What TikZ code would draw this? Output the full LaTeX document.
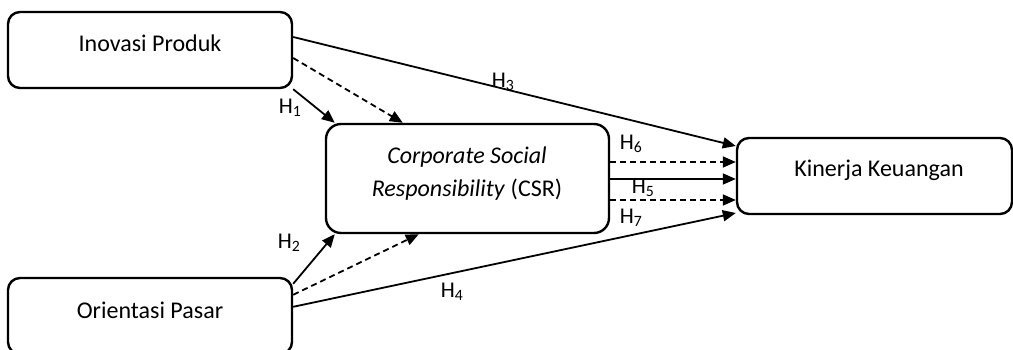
\documentclass[tikz,border=0pt]{standalone}
\usepackage{fontspec}
\setmainfont{Carlito}
\usetikzlibrary{arrows.meta,calc}
\begin{document}
\begin{tikzpicture}[x=1pt,y=-1pt,
  box/.style={draw,line width=2.4pt,rounded corners=12pt,inner sep=0pt},
  txt/.style={font=\fontsize{24}{33}\selectfont,inner sep=0pt},
  hl/.style={font=\fontsize{22.5}{26}\selectfont,inner sep=0pt},
  conn/.style={line width=1.8pt,-{Triangle[length=13pt,width=11pt]}},
  dconn/.style={conn,dash pattern=on 6pt off 4pt}]
\useasboundingbox (0,0) rectangle (1013,350);
% boxes
\node[box,minimum width=284pt,minimum height=76pt] (ip) at (150,50) {};
\node[txt] (iptext) at (150,43) {Inovasi Produk};
\node[box,minimum width=284pt,minimum height=76pt] (op) at (150,316) {};
\node[txt] (optext) at (150,310) {Orientasi Pasar};
\node[box,rounded corners=15pt,minimum width=283pt,minimum height=109pt] (csr) at (467.5,178.5) {};
\node[txt,align=center] (csrtext) at (467,173.5) {\itshape Corporate Social\\\textit{Responsibility} \upshape(CSR)};
\node[box,minimum width=275pt,minimum height=76pt] (kk) at (874.5,176) {};
\node[txt] (kktext) at (879,170) {Kinerja Keuangan};
% connector end points
\coordinate (ipA) at ($(ip.east)+(0,-13)$);
\coordinate (ipB) at ($(ip.east)+(0,8)$);
\coordinate (ipC) at (ip.south east);
\coordinate (opA) at ($(op.north east)+(0,7)$);
\coordinate (opB) at ($(op.north east)+(0,18)$);
\coordinate (opC) at ($(op.north east)+(0,30)$);
\coordinate (csrN1) at ($(csr.north west)+(10,0)$);
\coordinate (csrN2) at ($(csr.north west)+(78,0)$);
\coordinate (csrS1) at ($(csr.south west)+(10,0)$);
\coordinate (csrS2) at ($(csr.south west)+(94,0)$);
\coordinate (csrE1) at ($(csr.east)+(0,-16.5)$);
\coordinate (csrE2) at ($(csr.east)+(0,0.5)$);
\coordinate (csrE3) at ($(csr.east)+(0,21.5)$);
\coordinate (kkW0) at ($(kk.west)+(0,-30)$);
\coordinate (kkW1) at ($(kk.west)+(0,-14)$);
\coordinate (kkW2) at ($(kk.west)+(0,3)$);
\coordinate (kkW3) at ($(kk.west)+(0,24)$);
\coordinate (kkW4) at ($(kk.west)+(0,37)$);
% connectors
\draw[conn] (ipA) -- (kkW0);
\draw[dconn] (ipB) -- (csrN2);
\draw[conn] (ipC) -- (csrN1);
\draw[conn] (opA) -- (csrS1);
\draw[dconn] (opB) -- (csrS2);
\draw[conn] (opC) -- (kkW4);
\draw[dconn] (csrE1) -- (kkW1);
\draw[conn] (csrE2) -- (kkW2);
\draw[dconn] (csrE3) -- (kkW3);
% labels
\node[hl] (h1) at (290,108) {H\textsubscript{1}};
\node[hl] (h2) at (289,243) {H\textsubscript{2}};
\node[hl] (h3) at (503,82) {H\textsubscript{3}};
\node[hl] (h4) at (452,292) {H\textsubscript{4}};
\node[hl] (h5) at (643,188) {H\textsubscript{5}};
\node[hl] (h6) at (631,144) {H\textsubscript{6}};
\node[hl] (h7) at (631,218) {H\textsubscript{7}};
\end{tikzpicture}
\end{document}
